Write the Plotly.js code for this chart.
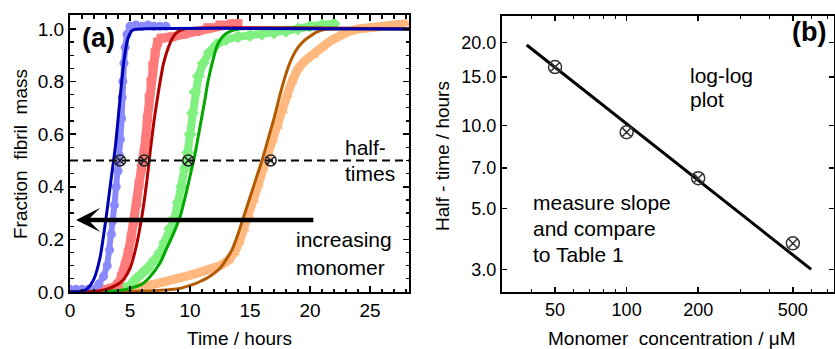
<!DOCTYPE html>
<html>
<head>
<meta charset="utf-8">
<script src="https://cdn.plot.ly/plotly-3.0.1.min.js"></script>
<style>html,body{margin:0;padding:0;background:#fff;}#chart{width:835px;height:349px;}</style>
</head>
<body>
<div id="chart"></div>
<script>
// ---------- Panel (a): experimental data (time in hours, fraction fibril mass) ----------
const blueDataT = [0,0.5,1,1.5,2,2.4,2.8,3.1,3.3,3.45,3.55,3.7,3.85,4.0,4.1,4.2,4.3,4.35,4.4,4.5,4.6,4.75,5,5.5,6,6.5,7,7.5,8];
const blueDataF = [0.01,0.01,0.01,0.01,0.01,0.03,0.06,0.1,0.16,0.22,0.27,0.33,0.4,0.46,0.52,0.58,0.66,0.74,0.8,0.87,0.93,0.98,1.01,1.015,1.01,1.015,1.01,1.01,1.01];

const redDataT = [1.5,2,2.5,3,3.5,4,4.3,4.6,4.85,5.1,5.35,5.55,5.75,5.95,6.15,6.3,6.45,6.6,6.75,6.9,7.1,7.3,7.6,8.5,9.5,10.5,11.5,12.5,13.5,14];
const redDataF = [0.005,0.005,0.007,0.01,0.015,0.03,0.06,0.1,0.15,0.21,0.27,0.34,0.41,0.47,0.52,0.58,0.66,0.74,0.8,0.86,0.91,0.95,0.965,0.97,0.98,0.99,1.005,1.015,1.02,1.02];

const greenDataT = [4,4.5,5,5.5,6,6.5,7,7.5,7.9,8.3,8.7,9.0,9.3,9.6,9.8,10,10.2,10.4,10.7,11.1,11.6,12.2,13,14,15,16,17,18,19,20,21,22];
const greenDataF = [0.01,0.015,0.025,0.05,0.07,0.09,0.12,0.15,0.19,0.24,0.28,0.34,0.4,0.47,0.53,0.6,0.68,0.76,0.82,0.87,0.91,0.94,0.96,0.97,0.975,0.98,0.985,0.99,1.0,1.01,1.015,1.02];

const orangeDataT = [4.5,5.5,6.5,7.5,8.5,9.5,10.5,11.5,12.5,13.2,13.7,14.1,14.5,14.9,15.3,15.7,16.1,16.5,16.9,17.3,17.7,18.1,18.5,19.0,19.6,20.3,21,21.7,22.4,23.2,24,25,26,27,28];
const orangeDataF = [0.01,0.015,0.025,0.035,0.045,0.055,0.07,0.085,0.1,0.12,0.15,0.19,0.24,0.29,0.35,0.41,0.47,0.53,0.58,0.63,0.69,0.75,0.8,0.85,0.88,0.9,0.93,0.955,0.975,0.99,1.0,1.005,1.01,1.015,1.02];

// ---------- Panel (a): fitted curves ----------
const blueFitT = [0,1,1.5,2,2.5,3,3.4,3.8,4.2,4.5,4.8,5.2,6,28.25];
const blueFitF = [0,0.003,0.015,0.05,0.13,0.28,0.42,0.56,0.75,0.88,0.96,0.995,1,1];

const redFitT = [0,2,3,4,4.5,5,5.5,6,6.4,6.7,7,7.4,7.8,8.2,8.6,9,9.5,28.25];
const redFitF = [0,0.003,0.01,0.03,0.05,0.09,0.17,0.29,0.42,0.54,0.65,0.77,0.87,0.93,0.97,0.99,1,1];

const greenFitT = [0,3,4.7,6,6.7,7.5,8,8.6,9.2,9.7,10.1,10.4,10.8,11.2,11.5,11.9,12.3,12.8,13.3,14,28.25];
const greenFitF = [0,0.002,0.01,0.03,0.06,0.11,0.16,0.22,0.29,0.38,0.46,0.52,0.62,0.72,0.8,0.88,0.94,0.975,0.99,1,1];

const brownFitT = [0,5,8,9,10,10.6,11.5,12.5,13.5,14.0,14.5,15.0,15.5,16.0,16.5,17.0,17.5,18.0,18.5,19.0,19.5,20.0,20.5,21.2,22,28.25];
const brownFitF = [0,0.002,0.008,0.012,0.025,0.035,0.055,0.09,0.16,0.22,0.29,0.36,0.43,0.5,0.58,0.66,0.75,0.83,0.89,0.93,0.955,0.972,0.987,0.998,1,1];

// ---------- Panel (a): half-time line and markers ----------
const halfLineT = [0, 28.25];
const halfLineF = [0.5, 0.5];
const halfTimesA = [4.17, 6.19, 9.86, 16.72];
const halfLevelA = [0.5, 0.5, 0.5, 0.5];

// ---------- Panel (b): log-log half-times ----------
const concentration = [50, 100, 200, 500];
const halfTimesB = [16.3, 9.45, 6.43, 3.73];
const fitConc = [38, 597];
const fitHalfTime = [19.6, 3.0];

// ---------- Tick labels ----------
const aXTicks = [0, 5, 10, 15, 20, 25];
const aXTickText = ['0', '5', '10', '15', '20', '25'];
const aYTicks = [0, 0.2, 0.4, 0.6, 0.8, 1.0];
const aYTickText = ['0.0', '0.2', '0.4', '0.6', '0.8', '1.0'];
const bXTicks = [50, 100, 200, 500];
const bXTickText = ['50', '100', '200', '500'];
const bXMinor = [40, 60, 70, 80, 90, 300, 400, 600, 700];
const bYTicks = [3, 5, 7, 10, 15, 20];
const bYTickText = ['3.0', '5.0', '7.0', '10.0', '15.0', '20.0'];

const FONT = 'Liberation Sans, Arial, Helvetica, sans-serif';

function dataTrace(x, y, color, symbol, lw, ms) {
  return {x: x, y: y, xaxis: 'x', yaxis: 'y', mode: 'lines+markers', hoverinfo: 'skip',
    line: {color: color, width: lw, shape: 'linear'},
    marker: {color: color, symbol: symbol, size: ms, line: {width: 0}}};
}
function fitTrace(x, y, color) {
  return {x: x, y: y, xaxis: 'x', yaxis: 'y', mode: 'lines', hoverinfo: 'skip',
    line: {color: color, width: 3, shape: 'spline', smoothing: 0.6}};
}

const traces = [
  dataTrace(orangeDataT, orangeDataF, '#ffb97f', 'triangle-up', 9, 10),
  dataTrace(greenDataT, greenDataF, '#80f080', 'diamond', 8, 10),
  dataTrace(redDataT, redDataF, '#ff7b7b', 'square', 9, 9),
  dataTrace(blueDataT, blueDataF, '#8a8aff', 'circle', 6, 9),
  fitTrace(brownFitT, brownFitF, '#b35a00'),
  fitTrace(greenFitT, greenFitF, '#00a800'),
  fitTrace(redFitT, redFitF, '#b00000'),
  fitTrace(blueFitT, blueFitF, '#0000b4'),
  {x: halfLineT, y: halfLineF, xaxis: 'x', yaxis: 'y', mode: 'lines', hoverinfo: 'skip',
    line: {color: 'black', width: 2, dash: '8px,5px'}},
  {x: halfTimesA, y: halfLevelA, xaxis: 'x', yaxis: 'y', mode: 'markers', hoverinfo: 'skip',
    marker: {symbol: 'circle-x-open', size: 11, color: '#222', line: {width: 1.5, color: '#222'}}},
  {x: fitConc, y: fitHalfTime, xaxis: 'x2', yaxis: 'y2', mode: 'lines', hoverinfo: 'skip',
    line: {color: 'black', width: 3}},
  {x: concentration, y: halfTimesB, xaxis: 'x2', yaxis: 'y2', mode: 'markers', hoverinfo: 'skip',
    marker: {symbol: 'circle-x-open', size: 13, color: '#333', line: {width: 1.5, color: '#333'}}}
];

function px(x) { return x / 835; }
function py(y) { return 1 - y / 349; }

const axisCommon = {
  showgrid: false, zeroline: false, showline: true, linewidth: 2, linecolor: 'black',
  mirror: 'allticks', ticks: 'inside', tickwidth: 1.5, tickcolor: 'black',
  tickfont: {family: FONT, size: 19, color: 'black'}, fixedrange: true
};

function txt(text, x, y, anchor, size, bold, angle) {
  return {text: bold ? '<b>' + text + '</b>' : text, xref: 'paper', yref: 'paper',
    x: px(x), y: py(y), xanchor: anchor, yanchor: 'middle', showarrow: false,
    textangle: angle || 0, font: {family: FONT, size: size, color: 'black'}};
}

const layout = {
  width: 835, height: 349, margin: {l: 0, r: 0, t: 0, b: 0},
  paper_bgcolor: 'white', plot_bgcolor: 'white', showlegend: false,
  font: {family: FONT, size: 19, color: 'black'},
  xaxis: Object.assign({}, axisCommon, {
    domain: [px(70), px(409)], range: [0, 28.25], anchor: 'y',
    tickvals: aXTicks, ticktext: aXTickText, ticklen: 6,
    minor: {dtick: 1, ticks: 'inside', ticklen: 3.5, tickwidth: 1.2, tickcolor: 'black'}
  }),
  yaxis: Object.assign({}, axisCommon, {
    domain: [py(292), py(15)], range: [0, 1.053], anchor: 'x',
    tickvals: aYTicks, ticktext: aYTickText, ticklen: 6,
    minor: {dtick: 0.05, ticks: 'inside', ticklen: 3.5, tickwidth: 1.2, tickcolor: 'black'}
  }),
  xaxis2: Object.assign({}, axisCommon, {
    domain: [px(502), px(834)], type: 'log', range: [1.476, 2.872], anchor: 'y2',
    tickvals: bXTicks, ticktext: bXTickText, ticklen: 5,
    tickfont: {family: FONT, size: 18, color: 'black'},
    minor: {tickvals: bXMinor, ticks: 'inside', ticklen: 3, tickwidth: 1, tickcolor: 'black'}
  }),
  yaxis2: Object.assign({}, axisCommon, {
    domain: [py(292), py(15.7)], type: 'log', range: [0.395, 1.3986], anchor: 'x2',
    tickvals: bYTicks, ticktext: bYTickText, ticklen: 5,
    tickfont: {family: FONT, size: 18, color: 'black'}
  }),
  annotations: [
    {xref: 'x', yref: 'y', x: 0.5, y: 0.274, ax: 20.4, ay: 0.274, axref: 'x', ayref: 'y',
      showarrow: true, arrowhead: 3, arrowsize: 0.9, arrowwidth: 4.5, arrowcolor: 'black', text: ''},
    txt('(a)', 80, 38, 'left', 27, true),
    txt('half-', 343, 147, 'left', 21),
    txt('times', 343, 173, 'left', 21),
    txt('increasing', 294, 240, 'left', 21),
    txt('monomer', 294, 267, 'left', 21),
    txt('Fraction  fibril  mass', 20, 154, 'center', 19, false, -90),
    txt('Time / hours', 239, 338, 'center', 19),
    txt('(b)', 790, 32, 'left', 27, true),
    txt('log-log', 688, 75, 'left', 21),
    txt('plot', 688, 99, 'left', 21),
    txt('measure slope', 531, 203, 'left', 21),
    txt('and compare', 531, 228, 'left', 21),
    txt('to Table 1', 531, 254, 'left', 21),
    txt('Half - time / hours', 442, 156, 'center', 19, false, -90),
    txt('Monomer  concentration / μM', 672, 338, 'center', 19)
  ]
};

Plotly.newPlot('chart', traces, layout, {staticPlot: true, displayModeBar: false});
</script>
</body>
</html>
